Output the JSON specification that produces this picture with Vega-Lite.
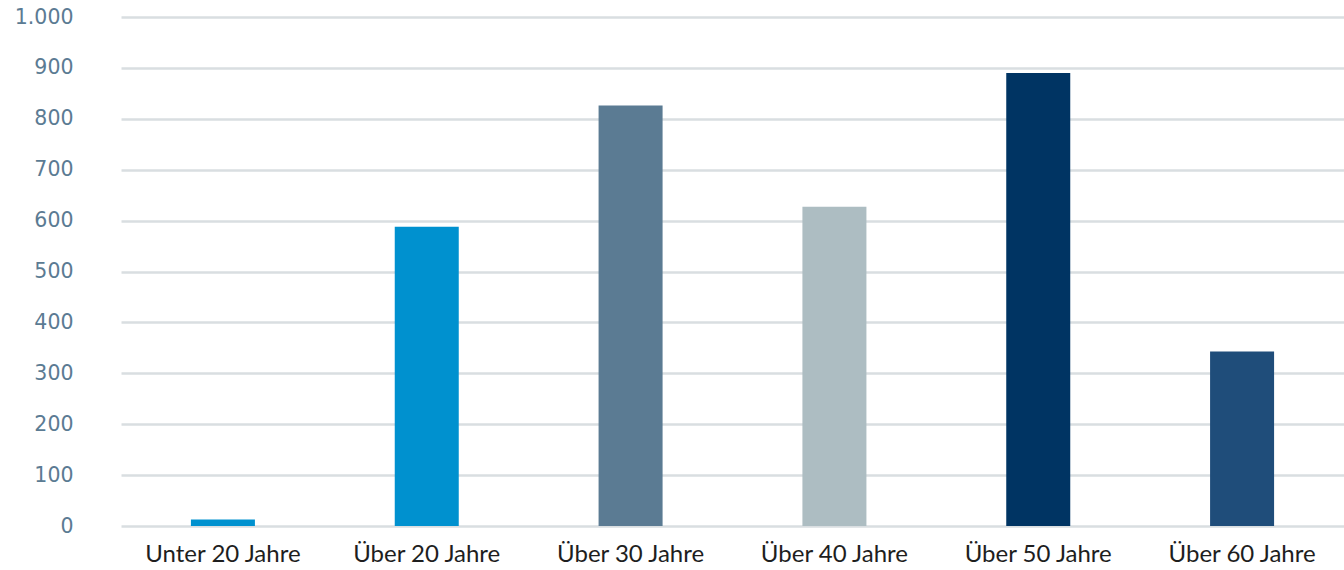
{
  "$schema": "https://vega.github.io/schema/vega-lite/v6.json",
  "autosize": {"type": "none"},
  "width": 1223,
  "height": 509,
  "padding": {"left": 121, "top": 17, "right": 0, "bottom": 44},
  "background": "white",
  "config": {"view": {"stroke": null}},
  "data": {
    "values": [
      {"gruppe": "Unter 20 Jahre", "wert": 13, "farbe": "#0091CF"},
      {"gruppe": "Über 20 Jahre", "wert": 588, "farbe": "#0091CF"},
      {"gruppe": "Über 30 Jahre", "wert": 826, "farbe": "#5B7B93"},
      {"gruppe": "Über 40 Jahre", "wert": 627, "farbe": "#ADBDC2"},
      {"gruppe": "Über 50 Jahre", "wert": 890, "farbe": "#003463"},
      {"gruppe": "Über 60 Jahre", "wert": 343, "farbe": "#1F4D7A"}
    ]
  },
  "mark": {"type": "bar"},
  "encoding": {
    "x": {
      "field": "gruppe",
      "type": "nominal",
      "sort": null,
      "scale": {"paddingInner": 0.686, "paddingOuter": 0.343},
      "axis": {
        "title": null,
        "labelAngle": 0,
        "domain": false,
        "ticks": false,
        "labelFont": "Lato",
        "labelFontSize": 24,
        "labelFontWeight": "normal",
        "labelColor": "#1E1E1E",
        "labelPadding": 16
      }
    },
    "y": {
      "field": "wert",
      "type": "quantitative",
      "scale": {"domain": [0, 1000], "nice": false},
      "axis": {
        "title": null,
        "values": [0, 100, 200, 300, 400, 500, 600, 700, 800, 900, 1000],
        "labelExpr": "replace(format(datum.value, ','), ',', '.')",
        "domain": false,
        "ticks": false,
        "grid": true,
        "gridColor": "#D9DEE1",
        "gridWidth": 2.5,
        "labelFont": "DejaVu Sans",
        "labelFontSize": 20.5,
        "labelColor": "#5B7B93",
        "labelPadding": 48
      }
    },
    "color": {"field": "farbe", "type": "nominal", "scale": null, "legend": null}
  }
}
